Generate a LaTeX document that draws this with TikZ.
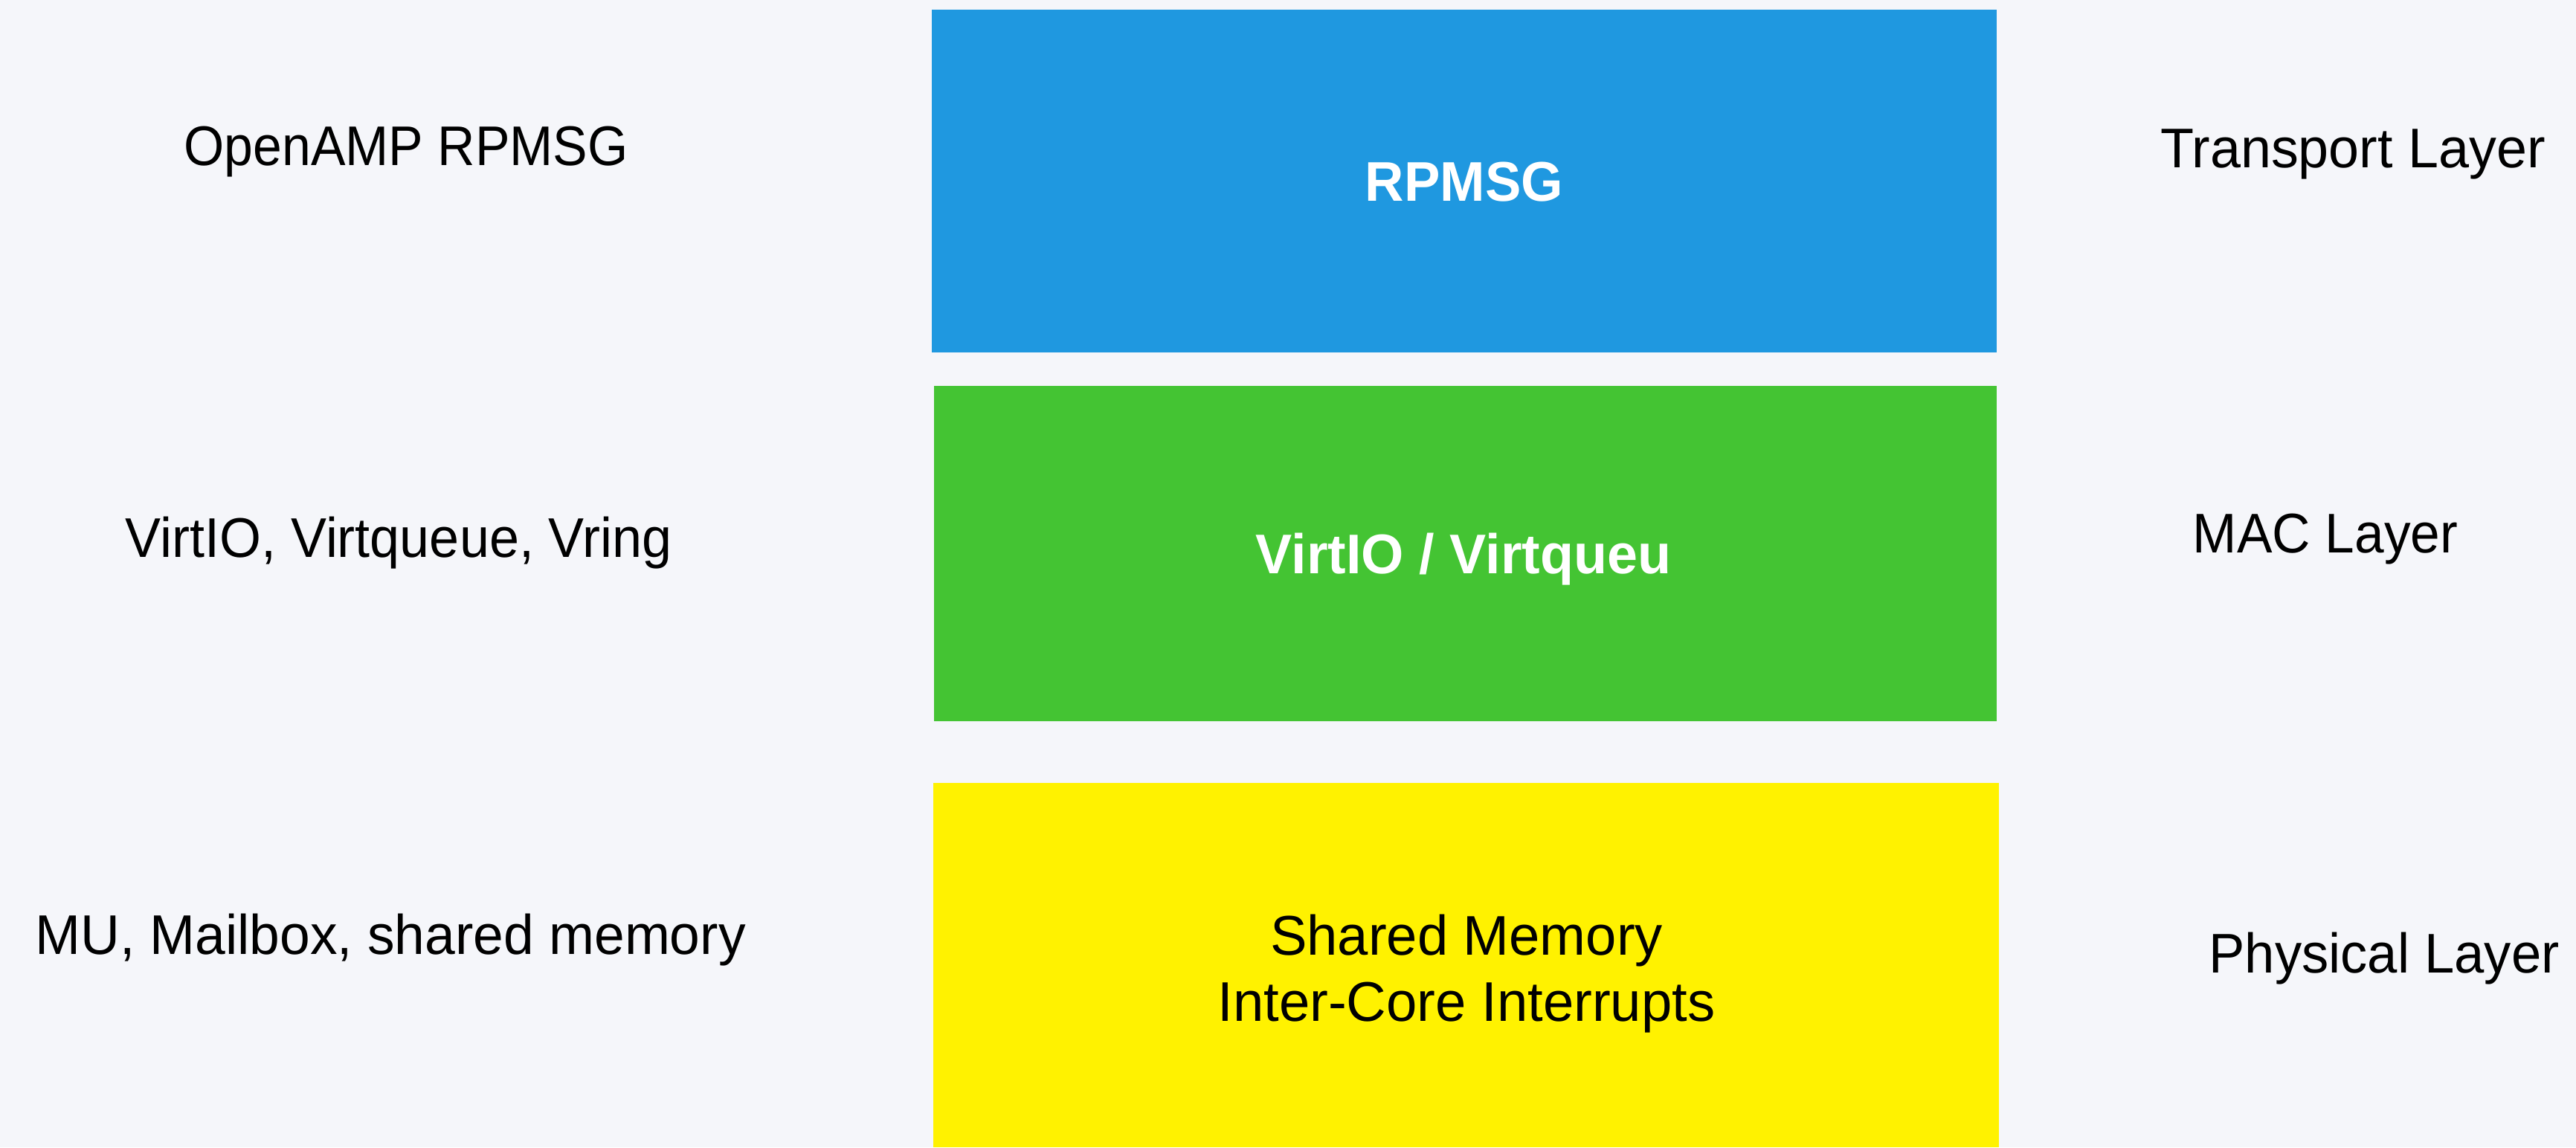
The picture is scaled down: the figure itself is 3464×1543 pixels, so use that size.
\documentclass[tikz,border=0pt]{standalone}
\usepackage{fontspec}
\setmainfont{Liberation Sans}
\definecolor{pagebg}{HTML}{F5F6FA}
\definecolor{rpmsgblue}{HTML}{1F98E0}
\definecolor{virtgreen}{HTML}{44C433}
\definecolor{physyellow}{HTML}{FFF200}
\tikzset{
  sidelabel/.style={anchor=base, inner sep=0pt, text=black,
    font=\fontsize{18.8pt}{22pt}\selectfont},
  boxlabel/.style={anchor=base, inner sep=0pt, text=white,
    font=\fontsize{18.8pt}{22pt}\selectfont\bfseries},
  boxtext/.style={anchor=base, inner sep=0pt, text=black,
    font=\fontsize{18.8pt}{22pt}\selectfont},
}
\begin{document}
\begin{tikzpicture}[x=0.25pt, y=-0.25pt]
  % page
  \fill[pagebg] (0,0) rectangle (3464,1543);
  \useasboundingbox (0,0) rectangle (3464,1543);

  % protocol stack blocks
  \fill[rpmsgblue]  (1253,13)   rectangle (2685,474);
  \fill[virtgreen]  (1256,519)  rectangle (2685,970);
  \fill[physyellow] (1255,1053) rectangle (2688,1543);

  % block titles
  \node[boxlabel] (rpmsg) at (1969,270) {\scalebox{0.965}[1]{RPMSG}};
  \node[boxlabel] (virtio) at (1968,771) {\scalebox{0.98}[1]{VirtIO / Virtqueu}};
  \node[boxtext] (shm) at (1972,1284) {\scalebox{0.987}[1]{Shared Memory}};
  \node[boxtext] (ici) at (1972,1373) {\scalebox{0.988}[1]{Inter-Core Interrupts}};

  % implementation names on the left
  \node[sidelabel] (impl1) at (546,222) {\scalebox{0.928}[1]{OpenAMP RPMSG}};
  \node[sidelabel] (impl2) at (536,749) {\scalebox{0.957}[1]{VirtIO, Virtqueue, Vring}};
  \node[sidelabel] (impl3) at (525,1283) {\scalebox{0.973}[1]{MU, Mailbox, shared memory}};

  % equivalent network layers on the right
  \node[sidelabel] (layer1) at (3164,225) {\scalebox{0.98}[1]{Transport Layer}};
  \node[sidelabel] (layer2) at (3127,743) {\scalebox{0.947}[1]{MAC Layer}};
  \node[sidelabel] (layer3) at (3206,1308) {\scalebox{0.963}[1]{Physical Layer}};
\end{tikzpicture}
\end{document}
